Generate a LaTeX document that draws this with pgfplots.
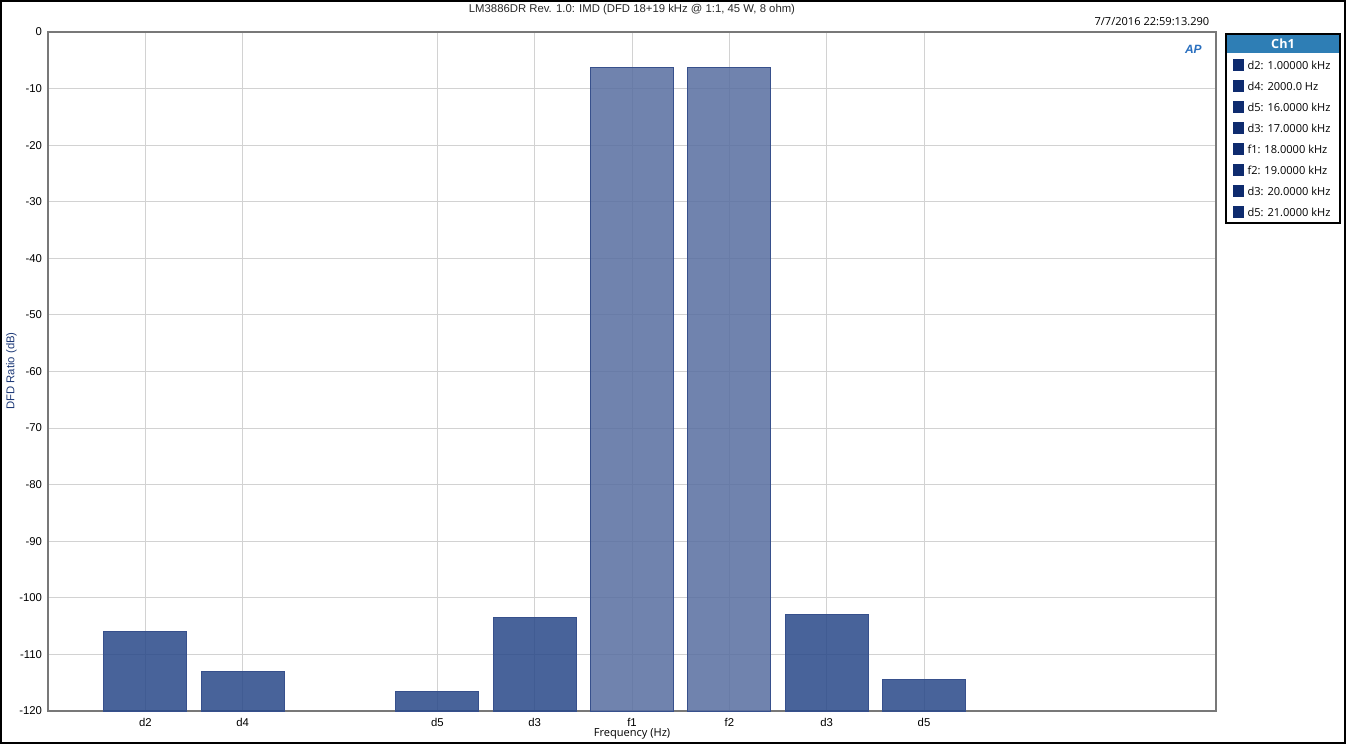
\documentclass[border=0pt]{standalone}
\usepackage{fontspec}
\setmainfont{Liberation Sans}
\newfontfamily\segoe{Open Sans}
\usepackage{pgfplots}
\pgfplotsset{compat=1.18}
\definecolor{barD}{RGB}{40,72,136}
\definecolor{barL}{RGB}{87,109,160}
\definecolor{barE}{RGB}{55,80,140}
\definecolor{gridc}{RGB}{210,210,210}
\definecolor{axisc}{RGB}{120,120,120}
\definecolor{ylab}{RGB}{30,58,120}
\definecolor{hdr}{RGB}{46,126,181}
\definecolor{navy}{RGB}{14,43,110}
\definecolor{aplogo}{RGB}{40,110,190}
\begin{document}
\begin{tikzpicture}
\useasboundingbox (0,0) rectangle (1009.5pt,558pt);
\begin{axis}[
  at={(36pt,24.75pt)}, anchor=south west,
  scale only axis, width=876pt, height=509.25pt,
  xmin=0, xmax=12, ymin=-120, ymax=0,
  y coord trafo/.code={\pgfmathparse{#1+120}},
  y coord inv trafo/.code={\pgfmathparse{#1-120}},
  ytick={-120,-110,-100,-90,-80,-70,-60,-50,-40,-30,-20,-10,0},
  yticklabels={-120,-110,-100,-90,-80,-70,-60,-50,-40,-30,-20,-10,0},
  xtick={1,2,4,5,6,7,8,9},
  xticklabels={d2,d4,d5,d3,f1,f2,d3,d5},
  grid=major,
  major grid style={color=gridc, line width=0.75pt},
  axis line style={color=axisc, line width=0.8pt},
  major tick length=0pt,
  tick label style={font=\fontsize{8.5}{10}\selectfont, text=black},
  yticklabel style={xshift=-1pt},
  xticklabel style={yshift=-2pt},
  /pgf/number format/assume math mode=true,
  axis on top=false,
  clip=false,
]
\addplot[ybar, bar width=0.85, bar shift=0pt, fill=barD, fill opacity=0.85, draw=barE, line width=0.75pt]
  coordinates {(1,-105.9) (2,-113.1) (4,-116.6) (5,-103.4) (8,-103.0) (9,-114.5)};
\addplot[ybar, bar width=0.85, bar shift=0pt, fill=barL, fill opacity=0.85, draw=barE, line width=0.75pt]
  coordinates {(6,-6.2) (7,-6.2)};
\end{axis}
% outer frame
\draw[black, line width=1.2pt] (0.6pt,0.6pt) rectangle (1008.9pt,557.4pt);
% title
\node[anchor=center, font=\fontsize{8.5}{10}\selectfont, text={rgb,255:red,40;green,40;blue,40}] at (474pt,551pt) {LM3886DR Rev. 1.0: IMD (DFD 18+19 kHz @ 1:1, 45 W, 8 ohm)};
% timestamp
\node[anchor=east, font=\segoe\fontsize{8.3}{10}\selectfont] at (910.5pt,541.5pt) {7/7/2016 22:59:13.290};
% y label
\node[rotate=90, font=\fontsize{8.5}{10}\selectfont, text=ylab] at (8.5pt,279.75pt) {DFD Ratio (dB)};
% x label
\node[font=\segoe\fontsize{8.3}{10}\selectfont] at (474pt,7.5pt) {Frequency (Hz)};
% AP logo
\node[font=\bfseries\itshape\fontsize{9}{10}\selectfont, text=aplogo] at (895pt,521pt) {AP};
% legend
\draw[black, line width=0.9pt, fill=white] (919.5pt,390.75pt) rectangle (1005pt,532.5pt);
\fill[hdr] (919.95pt,518.25pt) rectangle (1004.55pt,532.05pt);
\node[font=\segoe\bfseries\fontsize{9.5}{11}\selectfont, text=white] at (962.25pt,525.2pt) {Ch1};
\foreach \t [count=\i] in {d2: 1.00000 kHz, d4: 2000.0 Hz, d5: 16.0000 kHz, d3: 17.0000 kHz, f1: 18.0000 kHz, f2: 19.0000 kHz, d3: 20.0000 kHz, d5: 21.0000 kHz}{
  \pgfmathsetmacro{\yy}{558-0.75*(65+21*(\i-1))}
  \fill[navy] (924.5pt,\yy pt-4.5pt) rectangle (933pt,\yy pt+4.5pt);
  \node[anchor=west, font=\segoe\fontsize{8.3}{10}\selectfont, inner sep=0pt] at (935.5pt,\yy pt) {\t};
}
\end{tikzpicture}
\end{document}
